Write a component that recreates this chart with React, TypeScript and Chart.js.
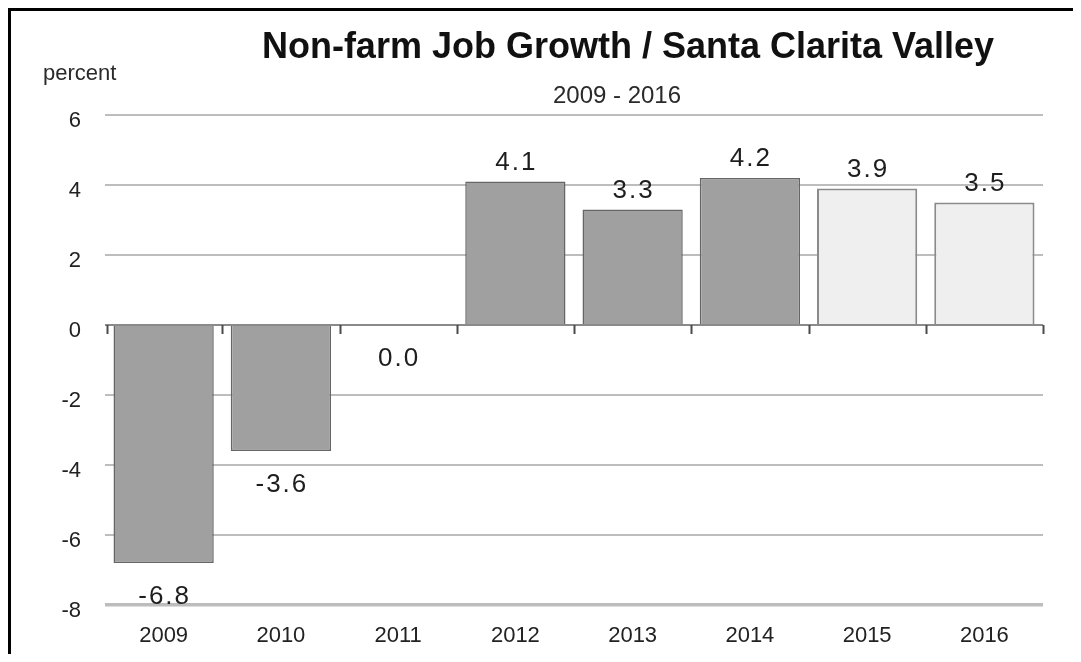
import React, { useEffect, useRef } from "react";
import { Chart, registerables } from "chart.js";

Chart.register(...registerables);

const years = ["2009", "2010", "2011", "2012", "2013", "2014", "2015", "2016"];
const growth = [-6.8, -3.6, 0.0, 4.1, 3.3, 4.2, 3.9, 3.5];
const isForecast = [false, false, false, false, false, false, true, true];
const yTicks = [6, 4, 2, 0, -2, -4, -6, -8];
const titleText = "Non-farm Job Growth / Santa Clarita Valley";
const subtitleText = "2009 - 2016";
const yUnitText = "percent";

const FONT = "'Liberation Sans', Arial, sans-serif";

const annotPlugin = {
  id: "annot",
  afterDatasetsDraw(chart: any) {
    const ctx = chart.ctx;
    const xs = chart.scales.x;
    const ys = chart.scales.y;
    const y0 = ys.getPixelForValue(0);
    const half = (xs.getPixelForValue(1) - xs.getPixelForValue(0)) / 2;
    ctx.save();
    ctx.strokeStyle = "#4a4a4a";
    ctx.lineWidth = 2;
    for (let i = 0; i <= years.length; i++) {
      const x = Math.round(xs.getPixelForValue(i) - half) + 0.5 + (i === 0 ? 2 : 0);
      ctx.beginPath();
      ctx.moveTo(x, y0);
      ctx.lineTo(x, y0 + 9);
      ctx.stroke();
    }
    // value labels
    const meta = chart.getDatasetMeta(0);
    ctx.fillStyle = "#1e1e1e";
    ctx.font = `26px ${FONT}`;
    (ctx as any).letterSpacing = "2px";
    ctx.textAlign = "center";
    ctx.textBaseline = "middle";
    meta.data.forEach((el: any, i: number) => {
      const v = growth[i];
      const txt = v.toFixed(1);
      const y = v > 0 ? el.y - 19 : el.y + 34;
      ctx.fillText(txt, el.x + 1, y);
    });
    (ctx as any).letterSpacing = "0px";
    ctx.restore();
  },
  afterDraw(chart: any) {
    const ctx = chart.ctx;
    ctx.save();
    ctx.fillStyle = "#111";
    ctx.textBaseline = "alphabetic";
    ctx.textAlign = "center";
    ctx.font = `bold 36px ${FONT}`;
    ctx.fillText(titleText, 620, 50);
    ctx.fillStyle = "#2a2a2a";
    ctx.font = `24px ${FONT}`;
    ctx.fillText(subtitleText, 609, 95);
    ctx.textAlign = "left";
    ctx.font = `22px ${FONT}`;
    ctx.fillText(yUnitText, 35, 72);
    ctx.restore();
  },
};

export default function App() {
  const ref = useRef<HTMLCanvasElement | null>(null);
  useEffect(() => {
    document.body.style.overflow = "hidden";
    if (!ref.current) return;
    const chart = new Chart(ref.current, {
      type: "bar",
      data: {
        labels: years,
        datasets: [
          {
            data: growth,
            backgroundColor: isForecast.map((f) => (f ? "#efefef" : "#a0a0a0")),
            borderColor: isForecast.map((f) => (f ? "#8a8a8a" : "#666666")),
            borderWidth: isForecast.map((f) => (f ? 2 : 1.5)),
            categoryPercentage: 1,
            barPercentage: 0.855,
          },
        ],
      },
      options: {
        animation: false,
        responsive: false,
        devicePixelRatio: 1,
        layout: { padding: { top: 107, left: 0, right: 30, bottom: 4 } },
        plugins: {
          legend: { display: false },
          tooltip: { enabled: false },
          title: { display: false },
        },
        scales: {
          x: {
            grid: { display: false, drawTicks: false },
            border: { display: false },
            ticks: {
              font: { family: FONT, size: 22 },
              color: "#222",
              padding: 18,
              maxRotation: 0,
            },
            afterFit: (s: any) => {
              s.height = 45;
            },
          },
          y: {
            min: -8,
            max: 6,
            afterBuildTicks: (s: any) => {
              s.ticks = yTicks.map((v) => ({ value: v }));
            },
            grid: {
              drawTicks: false,
              color: (c: any) => (c.tick && c.tick.value === 0 ? "#8a8a8a" : "#bdbdbd"),
              lineWidth: (c: any) => (c.tick && c.tick.value === -8 ? 3.5 : 2),
            },
            border: { display: false },
            ticks: {
              font: { family: FONT, size: 22 },
              color: "#222",
              padding: 24,
              labelOffset: 6,
            },
            afterFit: (s: any) => {
              s.width = 97;
            },
          },
        },
      },
      plugins: [annotPlugin],
    });
    return () => chart.destroy();
  }, []);
  return (
    <div style={{ position: "relative", width: 1065, height: 646 }}>
      <canvas ref={ref} width={1065} height={646} style={{ display: "block", width: 1065, height: 646 }} />
      <div
        style={{
          position: "absolute",
          left: 0,
          top: 0,
          right: 0,
          bottom: 0,
          borderTop: "3px solid #000",
          borderLeft: "3px solid #000",
          pointerEvents: "none",
        }}
      />
    </div>
  );
}
